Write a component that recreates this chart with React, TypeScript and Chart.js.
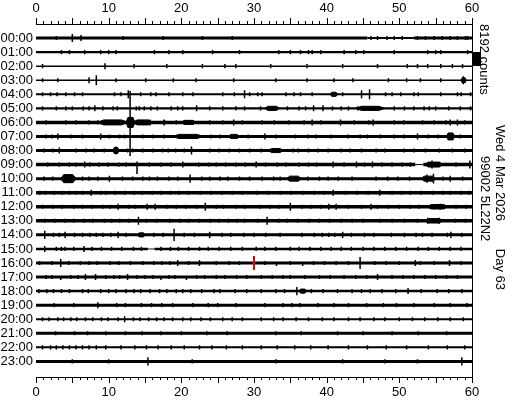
import { useEffect, useRef } from "react";
import { Chart, registerables } from "chart.js";

Chart.register(...registerables);

// ---- data ----
const hourLabels = [
  "00:00", "01:00", "02:00", "03:00", "04:00", "05:00", "06:00", "07:00",
  "08:00", "09:00", "10:00", "11:00", "12:00", "13:00", "14:00", "15:00",
  "16:00", "17:00", "18:00", "19:00", "20:00", "21:00", "22:00", "23:00",
];
const minuteLabels = [0, 10, 20, 30, 40, 50, 60];
const minuteMax = 60;
const countsPerRow = 8192;
const scaleText = "8192 counts";
const dateText = "Wed 4 Mar 2026";
const dayText = "Day 63";
const stationText = "99002 5L22N2";
const scaleBarRow = 1; // scale bar starts at this row line

// background noise of each hourly trace, peak-to-peak counts
const baseNoise = [
  1750, 1200, 900, 900, 1200, 1200, 2050, 1750,
  1750, 2050, 1750, 2050, 2050, 2050, 1750, 1450,
  1750, 1750, 1450, 1750, 1200, 1750, 1200, 1750,
];

// quieter stretches: [row, start minute, end minute, peak-to-peak counts]
const quietSpans: [number, number, number, number][] = [
  [0, 45.6, 52, 1200],
  [9, 52.2, 53.3, 600],
  [15, 15.4, 16.3, 500],
];

// noise bursts: [row, start minute, end minute, half amplitude counts]
const bursts: [number, number, number, number][] = [
  [3, 58.5, 59.2, 1450],
  [4, 40.5, 41.5, 1200],
  [5, 31.5, 33.5, 1200],
  [5, 44, 48, 1200],
  [6, 8.5, 12.6, 1450],
  [6, 12.4, 13.6, 2900],
  [6, 13.4, 16, 1450],
  [6, 20, 22, 1200],
  [7, 18.8, 23, 1200],
  [7, 26.5, 28, 1200],
  [7, 56.5, 57.6, 2050],
  [8, 10.6, 11.4, 1750],
  [8, 32, 34, 1200],
  [9, 53.5, 56, 1450],
  [10, 3.4, 5.5, 2350],
  [10, 34.5, 36.5, 1450],
  [10, 53, 55, 1450],
  [12, 53.8, 56.7, 1300],
  [13, 53.5, 56, 1300],
  [14, 14, 15, 1200],
  [18, 36.2, 37.2, 1200],
];

// [row, minute, counts up, counts down]
const spikes: [number, number, number, number][] = [
  [0, 5.0, 2350, 2350], [0, 6.2, 1750, 1750], [0, 22.9, 1200, 1200], [0, 53.6, 1200, 1200],
  [0, 59.1, 1200, 1200],
  [1, 33.4, 1200, 1200],
  [2, 9.5, 1750, 1750], [2, 32.3, 1200, 1200], [2, 51.1, 1200, 1200], [2, 58.7, 1200, 1200],
  [3, 7.3, 1750, 1750], [3, 8.3, 2900, 2900], [3, 18.9, 1200, 1200], [3, 27.2, 1200, 1200],
  [3, 37.3, 1200, 1200], [3, 51, 1200, 1200], [3, 58.8, 2350, 2350],
  [4, 2.9, 1200, 1200], [4, 12.7, 2350, 2350], [4, 27.3, 1200, 1200], [4, 28.7, 2350, 2350],
  [4, 40.8, 1200, 1200], [4, 44.8, 2350, 2350], [4, 45.9, 2900, 2900], [4, 49, 1200, 1200],
  [4, 58.5, 1200, 1200],
  [5, 6.5, 1200, 1200], [5, 8.1, 1750, 1750], [5, 14.2, 1200, 1200], [5, 16.7, 1200, 1200],
  [5, 22.1, 1750, 1750], [5, 25.7, 1200, 1200], [5, 32, 1200, 1200], [5, 38.2, 1750, 1750],
  [5, 39.5, 1750, 1750], [5, 40.8, 1200, 1200], [5, 44.3, 1200, 1200], [5, 50.7, 1200, 1200],
  [5, 54.1, 1200, 1200],
  [6, 12.95, 18300, 19600], [6, 15.7, 1750, 1750], [6, 17.6, 1750, 1750], [6, 20.8, 1200, 1200],
  [6, 27.2, 1750, 1750], [6, 38, 1750, 1750], [6, 41.9, 1750, 1750], [6, 46.4, 1750, 1750],
  [6, 57, 1750, 1750], [6, 58, 1750, 1750],
  [7, 3, 1750, 1750], [7, 8.9, 1750, 1750], [7, 17.6, 1200, 1200], [7, 31.5, 1750, 1750],
  [7, 38.5, 1200, 1200], [7, 45.6, 1200, 1200], [7, 52.5, 1750, 1750],
  [8, 3.2, 1750, 1750], [8, 9.4, 1200, 1200], [8, 11, 2350, 2350], [8, 14.7, 1200, 1200],
  [8, 19.2, 1200, 1200], [8, 21.4, 2350, 2350], [8, 37.5, 1200, 1200], [8, 44.8, 1200, 1200],
  [8, 50.6, 1200, 1200], [8, 59, 1200, 1200],
  [9, 6.7, 1750, 1750], [9, 7.4, 1200, 1200], [9, 8.7, 1200, 1200], [9, 13.9, 1750, 5550],
  [9, 20.2, 1750, 1750], [9, 26.1, 1200, 1200], [9, 30.3, 1750, 1750], [9, 40.9, 1750, 1750],
  [9, 44.1, 1750, 1750], [9, 46.3, 1750, 1750], [9, 54.5, 2350, 2350], [9, 59.7, 2350, 2350],
  [10, 8.5, 1200, 1200], [10, 10.1, 1750, 1750], [10, 18.3, 1200, 1200], [10, 19.5, 1200, 1200],
  [10, 21.2, 2350, 2350], [10, 26.4, 1200, 1200], [10, 43.5, 1200, 1200], [10, 53.8, 2350, 2350],
  [10, 54.7, 2900, 2900], [10, 57, 1750, 1750],
  [11, 1.3, 1200, 1200], [11, 4.6, 1200, 1200], [11, 7.6, 1750, 1750], [11, 10.9, 1200, 1200],
  [11, 18.5, 1200, 1200], [11, 24.1, 1200, 1200], [11, 40.9, 1750, 1750], [11, 47.3, 1750, 1750],
  [11, 51.5, 1200, 1200], [11, 57, 1200, 1200],
  [12, 11.3, 1750, 1750], [12, 15.3, 1750, 1750], [12, 16.4, 1750, 1750], [12, 23.3, 2350, 2350],
  [12, 27.5, 1200, 1200], [12, 35, 2350, 2350], [12, 40.3, 1750, 1750], [12, 41.3, 1750, 1750],
  [12, 44.8, 1200, 1200], [12, 46.1, 1750, 1750], [12, 47, 1200, 1200], [12, 55.6, 1750, 1750],
  [13, 2.6, 1200, 1200], [13, 5.2, 1200, 1200], [13, 14.1, 2350, 2350], [13, 16.6, 1200, 1200],
  [13, 24, 1200, 1200], [13, 26.5, 1200, 1200], [13, 31.8, 2350, 2350], [13, 33.4, 1200, 1200],
  [13, 40.4, 1200, 1200], [13, 53.9, 1750, 1750], [13, 55.5, 1750, 1750], [13, 57.7, 1200, 1200],
  [13, 59.1, 1200, 1200],
  [14, 1.2, 2350, 2350], [14, 4, 1750, 1750], [14, 11.3, 1750, 1750], [14, 19, 3500, 3500],
  [14, 23.9, 1750, 1750], [14, 31.6, 1200, 1200], [14, 38.3, 1200, 1200], [14, 42.2, 1750, 1750],
  [14, 48.9, 1200, 1200], [14, 50.7, 1200, 1200], [14, 54.5, 1200, 1200], [14, 56.6, 1200, 1200],
  [14, 57.1, 1750, 1750],
  [15, 1.2, 1750, 1750], [15, 4, 1200, 1200], [15, 6.6, 1750, 1750],
  [16, 3.4, 2350, 2350], [16, 4.5, 1200, 1200], [16, 19.5, 1750, 1750], [16, 22.5, 1750, 1750],
  [16, 24.8, 1200, 1200], [16, 33.1, 0, 1750], [16, 36.7, 0, 1750], [16, 44.6, 3500, 3500],
  [16, 46.6, 1200, 1200], [16, 52.2, 1750, 1750], [16, 52.9, 1200, 1200], [16, 54.8, 1200, 1200],
  [16, 56.9, 1750, 1750],
  [17, 3.4, 0, 1750], [17, 6.8, 1750, 1750], [17, 8.2, 1750, 1750], [17, 12.6, 1750, 1750],
  [17, 17.2, 0, 1750], [17, 19.1, 1200, 1200], [17, 20.7, 0, 1750], [17, 24.8, 1200, 1200],
  [17, 35, 1200, 1200], [17, 47, 1750, 1750],
  [18, 15.7, 1200, 1200], [18, 33, 1200, 1200], [18, 35.9, 2350, 2350], [18, 44.8, 1200, 1200],
  [18, 51.2, 1750, 1750], [18, 55.2, 1200, 1200],
  [19, 2.5, 1200, 1200], [19, 8.5, 1750, 1750], [19, 11.1, 1200, 1200], [19, 14.5, 1200, 1200],
  [19, 18.8, 1200, 1200], [19, 23.7, 1200, 1200], [19, 43, 1200, 1200], [19, 59.3, 1200, 1200],
  [20, 1.8, 1200, 1200], [20, 12.2, 1750, 1750], [20, 18.8, 1200, 1200], [20, 34, 1200, 1200],
  [20, 43, 1200, 1200],
  [21, 2.7, 1200, 1200], [21, 7.1, 1200, 1200], [21, 14.6, 1200, 1200], [21, 41.5, 1200, 1200],
  [22, 3.7, 1200, 1200],
  [23, 5, 1200, 1200], [23, 15.4, 2350, 2350], [23, 42.2, 1200, 1200], [23, 58.6, 2350, 2350],
];

// small background wiggles (minute positions) on each hourly trace
const pipMinutes: number[][] = [
  [2.8, 12, 17.5, 27, 46.1, 47, 48.3, 49.3, 50.4, 52.5, 54.8, 55.9, 57, 58, 59.4],
  [3.5, 4.6, 6.7, 8.9, 10, 11, 16.3, 18.3, 20.2, 24.3, 28, 35, 36.4, 37.5, 38, 39.2, 42.4, 44, 45.1, 49.3, 53.9, 55, 55.7, 59.4],
  [0.9, 13.5, 18, 22.9, 26, 27.5, 37.3, 42.2, 47, 52.5, 53.9, 55.7, 57.3],
  [0.9, 3, 11, 15.1, 22, 33, 41, 43.6, 48.5, 52.9, 55.7],
  [0.9, 2, 4.1, 5.3, 6.4, 10.8, 11.7, 14.4, 15.8, 16.5, 18.3, 20.2, 21.6, 25.7, 29.4, 30.5, 31.1, 34.4, 35.5, 36.4, 38, 42.2, 48.1, 50.2, 52, 52.6, 55.7, 58, 59.8],
  [0.9, 2.8, 4.1, 5, 7.3, 9.2, 10.6, 11.2, 13.8, 14.9, 15.8, 18.6, 19.5, 20.2, 23.9, 27.5, 28.7, 30.9, 34.6, 36.2, 37.1, 42, 43, 49.3, 52, 53.4, 55, 56.8, 58.4, 59.8],
  [1.4, 4.1, 5.5, 7.3, 8.5, 9.9, 13.8, 14.9, 17.7, 19.3, 20.6, 21.6, 23.9, 25.7, 28.4, 31.1, 32.8, 34.8, 36.9, 39.2, 43.8, 45.8, 49.3, 50.6, 53.2, 54.8, 56.4, 59],
  [1.4, 2.2, 4.8, 6.4, 10.1, 11.5, 12.2, 14.7, 16.1, 19.8, 21, 24.1, 25.3, 29.2, 33, 35.7, 37.4, 40.6, 42.9, 44.6, 47.4, 49.3, 50.6, 54, 55.3, 58.4],
  [1.1, 2.3, 5.5, 6.9, 8, 12.6, 13.3, 16.1, 17.4, 18.2, 20.4, 23.9, 25.2, 26.6, 28, 29.4, 31, 35.4, 36.1, 38.8, 40.2, 42, 43.2, 46.8, 48, 52, 53.6, 55.5, 57.3],
  [1.6, 3.2, 4.6, 5.5, 9.9, 11.4, 12.4, 15.6, 17.2, 18.6, 22.4, 23.8, 24.8, 27.5, 28.8, 31.6, 33.2, 34.4, 36.2, 37.5, 38.6, 42.4, 45.2, 47.6, 49, 50.4, 51.5, 57.8],
  [1.1, 2.3, 6.4, 7.3, 11.9, 13.3, 14.7, 15.6, 16.7, 22.8, 23.9, 25.3, 28, 29.4, 31.1, 32.7, 33.6, 37.4, 39, 40.2, 41.6, 46.8, 48.4, 49.8, 51.4, 56, 58.7],
  [0.5, 2.5, 3.6, 5.5, 6.4, 8.9, 9.6, 12.2, 13.5, 14.6, 16, 17.2, 19.7, 21, 22.6, 25.6, 27, 28.4, 30.4, 32, 33.6, 35.1, 36.7, 38.3, 39.6, 42.6, 44.2, 45.7, 49, 50.3, 53, 54.6, 56, 58.5, 59.6],
  [0.9, 2.3, 3.6, 5.2, 6.4, 7.7, 9.2, 10.2, 12.8, 13.7, 18, 19.3, 20.6, 22.1, 24.8, 25.8, 28.7, 30.8, 32.2, 33.4, 36.6, 37.8, 39.2, 43, 48.5, 50, 51.5, 52.7, 57.8, 59.2],
  [1.2, 4, 6.6, 7.8, 9.4, 10.4, 11.5, 12.8, 15.2, 18.4, 19.8, 21, 22.5, 25.2, 27.7, 28.7, 30.5, 34.6, 36, 37.6, 39, 42, 43.5, 45, 47.3, 49, 50.7, 52.5],
  [2.4, 3.2, 5.3, 6.4, 7.4, 8.3, 9.2, 10.3, 12.4, 16.2, 17.5, 20.4, 21.8, 25.6, 26.8, 28.6, 30, 33.6, 36.6, 39.4, 40.3, 41.1, 43.4, 45.2, 46.5, 52.3, 53.2, 58.6],
  [2.8, 3.5, 5.2, 7.7, 9, 10.4, 11.8, 13.4, 14.5, 17.2, 18.5, 19.6, 21, 22.5, 23.7, 25.2, 26.8, 28.4, 30.3, 31.5, 33, 35, 36.2, 37.7, 39.2, 40.6, 42, 43.4, 45, 46.5, 48, 49.5, 51, 52.6, 54, 55.5, 57, 58.5],
  [0.5, 2.2, 6.1, 7.3, 8.4, 10.2, 11.4, 13, 14.7, 16.2, 17.3, 18.4, 21, 26.6, 28, 31.5, 35, 38.2, 39.7, 41.3, 43, 48.2, 50, 58.5],
  [1.4, 2.2, 4.8, 5.8, 9.6, 10.7, 11.5, 13.9, 15, 16.1, 18.3, 22.1, 23.2, 26, 27.6, 29, 31, 32.5, 34, 37, 39, 40.5, 42.4, 44, 45.5, 49, 50.5, 52, 53.5, 55, 56.5, 58],
  [0.4, 1.5, 2.4, 3.5, 4.6, 6.4, 7.2, 8.9, 10, 11, 12.4, 13.5, 14.4, 17, 18, 19.3, 20.2, 21.3, 22.8, 24.5, 25.3, 27.4, 29, 31, 34.2, 37.9, 39.5, 41.5, 43.5, 46, 47.6, 49.5, 53, 56.8, 58.6],
  [5.2, 12.3, 15.9, 17.3, 21.6, 25, 27.5, 31.5, 34, 35.2, 36.3, 38.8, 41, 45.5, 47.8, 49.6, 52, 54.8, 57],
  [0.9, 3, 3.8, 4.8, 5.6, 6.8, 7.8, 9, 9.9, 11.3, 13.4, 14.3, 15.5, 16.6, 17.6, 20.2, 21.3, 22.7, 24, 25.7, 27, 28.4, 31, 32.7, 35.8, 37.5, 39.4, 41, 44.6, 46.5, 48, 50, 51.8, 53.5, 55.3, 57, 58.8],
  [5.3, 9.6, 12.3, 17.2, 20, 23.5, 26.3, 33, 36.5, 45, 49, 52.6, 56.5],
  [0.9, 2, 2.8, 4.6, 5.5, 6.4, 7.3, 8.3, 9.6, 11.7, 13.6, 15.2, 16.8, 18.6, 20.4, 22.5, 24.2, 26.2, 28.4, 31, 33.2, 35.6, 37.8, 40.2, 43, 45.6, 48.2, 51, 54, 56.6, 59],
  [10, 21.5, 33, 48, 52.5],
];
const pipCounts = 1200; // half amplitude of the small wiggles

// [row, minute, half amplitude counts] : red pick marker
const pickMarker: [number, number, number] = [16, 30.0, 4100];

// ---- helpers ----
function countsToPx(chart: any, counts: number) {
  const y = chart.scales.y;
  const rowPx = Math.abs(y.getPixelForValue(1) - y.getPixelForValue(0));
  return (counts / countsPerRow) * rowPx;
}

function rowDataset(row: number) {
  const spans = quietSpans.filter((b) => b[0] === row);
  const cuts = new Set<number>([0, minuteMax]);
  spans.forEach((b) => {
    cuts.add(b[1]);
    cuts.add(b[2]);
  });
  const xs = Array.from(cuts).sort((a, b) => a - b);
  const widths = xs.slice(0, -1).map((x, i) => {
    const mid = (x + xs[i + 1]) / 2;
    const b = spans.find((bb) => mid > bb[1] && mid < bb[2]);
    return b ? b[3] : baseNoise[row];
  });
  return {
    type: "line" as const,
    data: xs.map((x) => ({ x, y: row })),
    borderColor: "#000",
    borderWidth: (ctx: any) => countsToPx(ctx.chart, baseNoise[row]),
    segment: {
      borderWidth: (ctx: any) => countsToPx(ctx.chart, widths[ctx.p0DataIndex]),
    },
    borderCapStyle: "butt" as const,
    pointRadius: 0,
    fill: false,
    tension: 0,
    order: 4,
  };
}

function burstDataset(b: [number, number, number, number]) {
  const [row, s, e, half] = b;
  const ramp = (e - s) * 0.2;
  const a = half / countsPerRow;
  return {
    type: "line" as const,
    data: [
      { x: s, y: row },
      { x: s + ramp, y: row - a },
      { x: e - ramp, y: row - a },
      { x: e, y: row },
      { x: e - ramp, y: row + a },
      { x: s + ramp, y: row + a },
      { x: s, y: row },
    ],
    borderColor: "#000",
    backgroundColor: "#000",
    borderWidth: 1,
    fill: "shape",
    pointRadius: 0,
    tension: 0,
    order: 3,
  };
}

function spikePoints(list: [number, number, number, number][]) {
  const pts: { x: number; y: number | null }[] = [];
  list.forEach(([row, m, up, down]) => {
    pts.push({ x: m, y: row - up / countsPerRow });
    pts.push({ x: m, y: row + down / countsPerRow });
    pts.push({ x: m, y: null });
  });
  return pts;
}

const pipList: [number, number, number, number][] = [];
pipMinutes.forEach((mins, row) => mins.forEach((m) => pipList.push([row, m, pipCounts, pipCounts])));

const FONT = { family: "'Liberation Sans', Arial, sans-serif", size: 13 };

const decorPlugin = {
  id: "helicorderDecor",
  afterDraw(chart: any) {
    const { ctx, chartArea, scales } = chart;
    const x = scales.x;
    const y = scales.y;
    ctx.save();
    // minute tick marks (every minute, longer every 5)
    ctx.strokeStyle = "#000";
    ctx.lineWidth = 1;
    ctx.beginPath();
    for (let m = 0; m <= minuteMax; m++) {
      const px = Math.round(x.getPixelForValue(m)) + 0.5;
      const len = m % 5 === 0 ? 6 : 3;
      ctx.moveTo(px, chartArea.top);
      ctx.lineTo(px, chartArea.top - len);
      ctx.moveTo(px, chartArea.bottom);
      ctx.lineTo(px, chartArea.bottom + len);
    }
    ctx.stroke();
    // amplitude scale bar: 8192 counts tall
    const yTop = y.getPixelForValue(scaleBarRow);
    const yBot = y.getPixelForValue(scaleBarRow + countsPerRow / countsPerRow);
    ctx.fillStyle = "#000";
    ctx.fillRect(chartArea.right + 1, Math.round(yTop), 8, Math.round(yBot - yTop));
    // rotated annotations
    ctx.font = "13px 'Liberation Sans', Arial, sans-serif";
    ctx.textBaseline = "alphabetic";
    const drawRot = (text: string, bx: number, sy: number, align: CanvasTextAlign) => {
      ctx.save();
      ctx.translate(bx, sy);
      ctx.rotate(Math.PI / 2);
      ctx.textAlign = align;
      ctx.fillText(text, 0, 0);
      ctx.restore();
    };
    const r = chartArea.right;
    drawRot(scaleText, r + 8, 24, "left");
    drawRot(dateText, r + 24, 125, "left");
    drawRot(dayText, r + 24, 290, "right");
    drawRot(stationText, r + 9, 156, "left");
    ctx.restore();
  },
};

export default function App() {
  const ref = useRef<HTMLCanvasElement | null>(null);

  useEffect(() => {
    if (!ref.current) return;
    const yMin = -1;
    const yMax = 24.11;
    const datasets: any[] = hourLabels.map((_, i) => rowDataset(i));
    bursts.forEach((b) => datasets.push(burstDataset(b)));
    datasets.push({
      type: "line",
      data: spikePoints(pipList),
      borderColor: "#000",
      borderWidth: 1.5,
      pointRadius: 0,
      spanGaps: false,
      fill: false,
      order: 2,
    });
    datasets.push({
      type: "line",
      data: spikePoints(spikes),
      borderColor: "#000",
      borderWidth: 1.5,
      pointRadius: 0,
      spanGaps: false,
      fill: false,
      order: 2,
    });
    datasets.push({
      type: "line",
      data: spikePoints([[pickMarker[0], pickMarker[1], pickMarker[2], pickMarker[2]]]),
      borderColor: "#e60000",
      borderWidth: 2,
      pointRadius: 0,
      spanGaps: false,
      fill: false,
      order: 1,
    });

    const chart = new Chart(ref.current, {
      type: "line",
      data: { datasets },
      options: {
        animation: false,
        responsive: false,
        devicePixelRatio: 1,
        layout: { padding: 0 },
        plugins: { legend: { display: false }, tooltip: { enabled: false } },
        events: [],
        scales: {
          x: {
            type: "linear",
            position: "top",
            min: 0,
            max: minuteMax,
            grid: { display: false, drawTicks: false, tickLength: 0 },
            border: { display: true, color: "#000", width: 1 },
            ticks: { padding: 8, autoSkip: false, maxRotation: 0, color: "#000", font: FONT },
            afterBuildTicks: (s: any) => {
              s.ticks = minuteLabels.map((v) => ({ value: v }));
            },
            afterFit: (s: any) => {
              s.height = 24;
            },
          },
          x2: {
            type: "linear",
            position: "bottom",
            min: 0,
            max: minuteMax,
            grid: { display: false, drawTicks: false, tickLength: 0 },
            border: { display: true, color: "#000", width: 1 },
            ticks: { padding: 8, autoSkip: false, maxRotation: 0, color: "#000", font: FONT },
            afterBuildTicks: (s: any) => {
              s.ticks = minuteLabels.map((v) => ({ value: v }));
            },
            afterFit: (s: any) => {
              s.height = 23;
            },
          },
          y: {
            type: "linear",
            position: "left",
            reverse: true,
            min: yMin,
            max: yMax,
            grid: { display: false, drawTicks: false, tickLength: 0 },
            border: { display: false },
            ticks: {
              padding: 3,
              autoSkip: false,
              color: "#000",
              font: FONT,
              callback: (v: any) => hourLabels[Math.round(Number(v))] ?? "",
            },
            afterBuildTicks: (s: any) => {
              s.ticks = hourLabels.map((_, i) => ({ value: i }));
            },
            afterFit: (s: any) => {
              s.width = 36;
            },
          },
          y2: {
            type: "linear",
            position: "right",
            reverse: true,
            min: yMin,
            max: yMax,
            grid: { display: false, drawTicks: false, tickLength: 0 },
            border: { display: true, color: "#000", width: 1 },
            ticks: { display: false },
            afterFit: (s: any) => {
              s.width = 40;
            },
          },
        },
      },
      plugins: [decorPlugin],
    } as any);
    return () => chart.destroy();
  }, []);

  return (
    <div style={{ position: "absolute", left: 0, top: 0, width: 512, height: 400, background: "#fff" }}>
      <canvas ref={ref} width={512} height={400} style={{ display: "block" }} />
    </div>
  );
}
